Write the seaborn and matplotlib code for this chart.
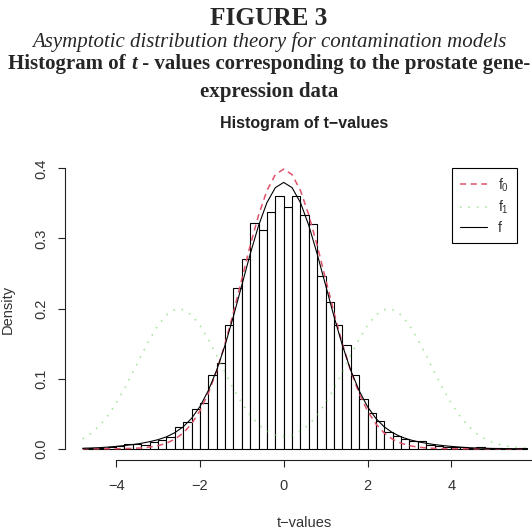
import numpy as np
import pandas as pd
import matplotlib
matplotlib.use("Agg")
import matplotlib.pyplot as plt
import seaborn as sns
from matplotlib.lines import Line2D

# ---------------- data ----------------
bin_start = -4.8
bin_width = 0.2
hist_density = [0.001, 0.001, 0.0015, 0.002, 0.004, 0.0075, 0.0075, 0.0055, 0.009, 0.013,
                0.017, 0.031, 0.038, 0.057, 0.065, 0.105, 0.122, 0.177, 0.230, 0.271,
                0.322, 0.312, 0.337, 0.360, 0.345, 0.361, 0.333, 0.321, 0.247, 0.210,
                0.177, 0.148, 0.105, 0.071, 0.051, 0.040, 0.024, 0.018, 0.014, 0.011,
                0.011, 0.005, 0.0045, 0.0025, 0.003, 0.003, 0.001, 0.002, 0.0005, 0.0005,
                0.0, 0.0, 0.0005]

curve_start = -4.8
curve_step = 0.2
f0_vals = [0.0000, 0.0000, 0.0000, 0.0001, 0.0001, 0.0003, 0.0006, 0.0012, 0.0024, 0.0044,
           0.0079, 0.0136, 0.0224, 0.0355, 0.0540, 0.0790, 0.1109, 0.1497, 0.1942, 0.2420,
           0.2897, 0.3332, 0.3683, 0.3910, 0.3989, 0.3910, 0.3683, 0.3332, 0.2897, 0.2420,
           0.1942, 0.1497, 0.1109, 0.0790, 0.0540, 0.0355, 0.0224, 0.0136, 0.0079, 0.0044,
           0.0024, 0.0012, 0.0006, 0.0003, 0.0001, 0.0001, 0.0000, 0.0000, 0.0000, 0.0000,
           0.0000, 0.0000, 0.0000, 0.0000]
f1_vals = [0.0142, 0.0220, 0.0328, 0.0470, 0.0648, 0.0857, 0.1090, 0.1331, 0.1562, 0.1761,
           0.1907, 0.1985, 0.1985, 0.1907, 0.1761, 0.1562, 0.1331, 0.1091, 0.0859, 0.0652,
           0.0479, 0.0344, 0.0250, 0.0194, 0.0175, 0.0194, 0.0250, 0.0344, 0.0479, 0.0652,
           0.0859, 0.1091, 0.1331, 0.1562, 0.1761, 0.1907, 0.1985, 0.1985, 0.1907, 0.1761,
           0.1562, 0.1331, 0.1090, 0.0857, 0.0648, 0.0470, 0.0328, 0.0220, 0.0142, 0.0088,
           0.0052, 0.0030, 0.0016, 0.0009]
f_vals = [0.0007, 0.0011, 0.0016, 0.0024, 0.0034, 0.0046, 0.0060, 0.0078, 0.0101, 0.0130,
          0.0170, 0.0229, 0.0312, 0.0433, 0.0601, 0.0829, 0.1120, 0.1477, 0.1888, 0.2332,
          0.2776, 0.3183, 0.3511, 0.3724, 0.3799, 0.3724, 0.3511, 0.3183, 0.2776, 0.2332,
          0.1888, 0.1477, 0.1120, 0.0829, 0.0601, 0.0433, 0.0312, 0.0229, 0.0170, 0.0130,
          0.0101, 0.0078, 0.0060, 0.0046, 0.0034, 0.0024, 0.0016, 0.0011, 0.0007, 0.0004,
          0.0003, 0.0002, 0.0001, 0.0000]

legend_labels = ["f$_0$", "f$_1$", "f"]
x_ticks = [-4, -2, 0, 2, 4, 6]
y_ticks = [0.0, 0.1, 0.2, 0.3, 0.4]
y_ticklabels = ["0.0", "0.1", "0.2", "0.3", "0.4"]

header_figure = "FIGURE 3"
header_sub = "Asymptotic distribution theory for contamination models"
header_bold_parts = ["Histogram of ", "t", " - values corresponding to the prostate gene-"]
header_bold_2 = "expression data"
plot_title = "Histogram of t\u2212values"
x_label = "t\u2212values"
y_label = "Density"

# ---------------- derived tables ----------------
n_bins = len(hist_density)
edges = [float(v) for v in bin_start + bin_width * np.arange(n_bins + 1)]
centers = [e + bin_width / 2 for e in edges[:-1]]
hist_df = pd.DataFrame({"t": centers, "density": hist_density})

grid = curve_start + curve_step * np.arange(len(f0_vals))
curves = pd.DataFrame({"t": grid, "f0": f0_vals, "f1": f1_vals, "f": f_vals})

# ---------------- style ----------------
sns.set_style("white")
plt.rcParams["font.family"] = ["Liberation Sans", "DejaVu Sans"]
plt.rcParams["mathtext.default"] = "regular"

RED = "#DF536B"
GREEN = "#61D04F"
dash = (0, (4, 3))
dots = (0, (1, 4.5))

W, H = 532, 531
fig = plt.figure(figsize=(W / 100, H / 100), dpi=100)

# axes placed in reference pixel coordinates (plot region runs past the right edge)
x_lo, x_hi = -5.224, 6.224
y_lo, y_hi = -0.016, 0.416
px_left, px_right = 64.8, 544.5
px_top, px_bottom = 157.1, 460.0
ax = fig.add_axes([px_left / W, 1 - px_bottom / H,
                   (px_right - px_left) / W, (px_bottom - px_top) / H])

sns.histplot(data=hist_df, x="t", weights="density", bins=edges, stat="count",
             color="white", edgecolor="black", linewidth=0.8, alpha=1, ax=ax)

sns.lineplot(data=curves, x="t", y="f0", color=RED, linestyle=dash, linewidth=1.1, ax=ax)
sns.lineplot(data=curves, x="t", y="f1", color=GREEN, linestyle=dots, linewidth=1.1,
             alpha=0.6, ax=ax)
sns.lineplot(data=curves, x="t", y="f", color="black", linewidth=0.8, ax=ax)

ax.set_xlim(x_lo, x_hi)
ax.set_ylim(y_lo, y_hi)
ax.set_xlabel("")
ax.set_ylabel("")

for s in ["top", "right"]:
    ax.spines[s].set_visible(False)
ax.spines["left"].set_bounds(0, 0.4)
ax.spines["bottom"].set_bounds(-4, 6)
for s in ["left", "bottom"]:
    ax.spines[s].set_linewidth(0.8)
    ax.spines[s].set_color("#222222")

ax.set_xticks(x_ticks)
ax.set_xticklabels([("\u2212" if v < 0 else "") + str(abs(v)) for v in x_ticks])
ax.set_yticks(y_ticks)
ax.set_yticklabels(y_ticklabels, rotation=90, va="center", ha="right")
ax.tick_params(axis="both", direction="out", length=5, width=0.8, colors="#222222",
               labelsize=10.5, labelcolor="#333333")
ax.tick_params(axis="x", pad=9, bottom=True)
ax.tick_params(axis="y", pad=7, left=True)

# legend
handles = [Line2D([], [], color=RED, linestyle=dash, linewidth=1.1),
           Line2D([], [], color=GREEN, linestyle=dots, linewidth=1.1, alpha=0.6),
           Line2D([], [], color="black", linewidth=0.8)]
leg = ax.legend(handles, legend_labels, loc="upper right",
                bbox_to_anchor=(517 / W, 1 - 168 / H), bbox_transform=fig.transFigure,
                borderaxespad=0, fancybox=False, framealpha=1, edgecolor="black",
                fontsize=10, handlelength=1.9, handletextpad=0.8, labelspacing=0.35,
                borderpad=0.6)
leg.get_frame().set_linewidth(0.8)
for t in leg.get_texts():
    t.set_color("#333333")

# titles and labels
fig.text(304.6 / W, 1 - 128.3 / H, plot_title, ha="center", va="baseline",
         fontsize=11.5, fontweight="bold", color="#222222")
fig.text(304.6 / W, 1 - 527 / H, x_label, ha="center", va="baseline",
         fontsize=10.5, color="#333333")
fig.text(7.5 / W, 1 - 309 / H, y_label, ha="center", va="center", rotation=90,
         fontsize=10.5, color="#333333")

serif = ["Liberation Serif", "DejaVu Serif"]
cx = 269.0
fig.text(cx / W, 1 - 25 / H, header_figure, ha="center", va="baseline", family=serif,
         fontsize=18.2, fontweight="bold")
fig.text(cx / W, 1 - 46.7 / H, header_sub, ha="center", va="baseline", family=serif,
         fontsize=15, style="italic")

# bold line drawn in pieces so that "t" is bold italic
r = fig.canvas.get_renderer()
styles = ["normal", "italic", "normal"]
pieces = []
total = 0.0
for txt, st in zip(header_bold_parts, styles):
    tt = fig.text(0, 1 - 69.3 / H, txt, family=serif, fontsize=15, fontweight="bold",
                  style=st, va="baseline", ha="left")
    w = tt.get_window_extent(renderer=r).width
    pieces.append((tt, w))
    total += w
x0 = cx - total / 2
for tt, w in pieces:
    tt.set_x(x0 / W)
    x0 += w
fig.text(cx / W, 1 - 96.7 / H, header_bold_2, ha="center", va="baseline", family=serif,
         fontsize=15, fontweight="bold")

fig.savefig("out.png", dpi=100, facecolor="white")
